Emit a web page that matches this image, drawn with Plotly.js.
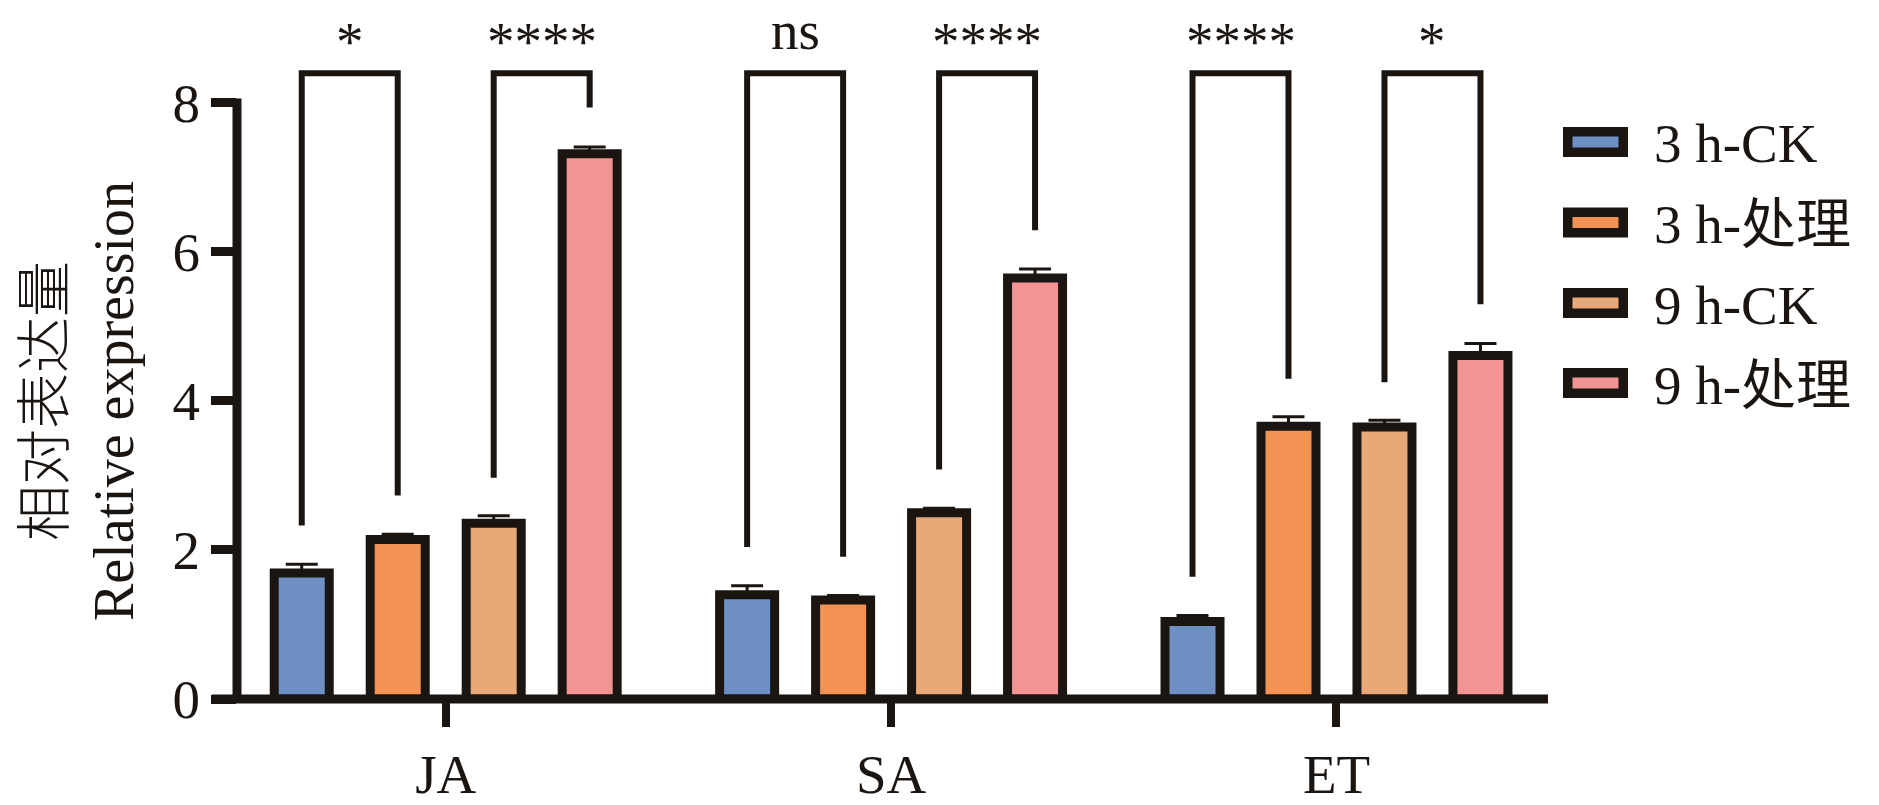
<!DOCTYPE html>
<html>
<head>
<meta charset="utf-8">
<script src="https://cdn.plot.ly/plotly-3.0.1.min.js"></script>
<style>
  html, body { margin: 0; padding: 0; background: #fff; }
  #chart { width: 1879px; height: 805px; }
</style>
</head>
<body>
<div id="chart"></div>
<script>
// groups on the x axis
var categories = ['JA', 'SA', 'ET'];
var seriesNames = ['3 h-CK', '3 h-处理', '9 h-CK', '9 h-处理'];

// mean relative expression
var ck3h = [1.69, 1.40, 1.04];
var trt3h = [2.14, 1.33, 3.66];
var ck9h = [2.36, 2.50, 3.65];
var trt9h = [7.32, 5.65, 4.61];

// error bars (the lower half is hidden by the bar in the figure)
var ck3hErr = [0.12, 0.12, 0.08];
var trt3hErr = [0.07, 0.06, 0.13];
var ck9hErr = [0.10, 0.06, 0.09];
var trt9hErr = [0.09, 0.12, 0.16];

// significance brackets: pairs (series index), labels, leg ends
var sigGroup = [0, 0, 1, 1, 2, 2];
var sigFrom = [0, 2, 0, 2, 0, 2];
var sigTo = [1, 3, 1, 3, 1, 3];
var sigText = ['*', '****', 'ns', '****', '****', '*'];
var legLeft = [2.33, 2.97, 2.04, 3.08, 1.64, 4.25];
var legRight = [2.73, 7.94, 1.91, 6.29, 4.30, 5.30];
var bracketTop = 8.40;
var sigLabelY = [8.82, 8.82, 8.97, 8.82, 8.82, 8.82];

var yTicks = [0, 2, 4, 6, 8];

var colors = ['#6E8FC3', '#F39353', '#E8A878', '#F29494'];
var ink = '#1B1512';
var fontFam = '"Liberation Serif", "Times New Roman", "Noto Sans CJK SC", serif';

var W = 1879, H = 805;
var mL = 237, mR = 331, mT = 5, mB = 106;
var pw = W - mL - mR, ph = H - mT - mB;

// bar layout in category units
var slot = 0.2155;
var barW = 0.1235;

var values = [ck3h, trt3h, ck9h, trt9h];
var errs = [ck3hErr, trt3hErr, ck9hErr, trt9hErr];
var xs = categories.map(function (c, i) { return i; });

var data = [];
values.forEach(function (v, k) {
  data.push({
    type: 'bar',
    name: seriesNames[k],
    x: xs,
    y: v,
    width: barW,
    offset: (k - 1.5) * slot - barW / 2,
    marker: { color: colors[k], line: { color: ink, width: 9 } },
    error_y: {
      type: 'data', symmetric: false, array: errs[k],
      arrayminus: errs[k].map(function () { return 0; }),
      visible: true, color: ink, thickness: 3, width: 16
    },
    showlegend: false,
    hoverinfo: 'skip'
  });
});

function barCenter(g, k) { return g + (k - 1.5) * slot; }

var annotations = [];
sigText.forEach(function (t, i) {
  var xa = barCenter(sigGroup[i], sigFrom[i]);
  var xb = barCenter(sigGroup[i], sigTo[i]);
  data.push({
    type: 'scatter',
    mode: 'lines',
    x: [xa, xa, xb, xb],
    y: [legLeft[i], bracketTop, bracketTop, legRight[i]],
    line: { color: ink, width: 6 },
    showlegend: false,
    hoverinfo: 'skip'
  });
  annotations.push({
    xref: 'x', yref: 'y', x: (xa + xb) / 2, y: sigLabelY[i],
    text: t, showarrow: false, xanchor: 'center', yanchor: 'middle',
    font: { family: fontFam, size: 55, color: ink }
  });
});

// pixel -> paper helpers for the hand-built legend and axis line
function px(x) { return (x - mL) / pw; }
function py(y) { return (H - mB - y) / ph; }

var shapes = [
  // y axis line, only up to the top tick
  { type: 'line', xref: 'paper', yref: 'y', x0: 0, x1: 0, y0: 0, y1: 8.06,
    line: { color: ink, width: 9 } },
  // x axis line through zero, running under the 0 tick
  { type: 'line', xref: 'paper', yref: 'paper', x0: px(212), x1: 1, y0: 0, y1: 0,
    line: { color: ink, width: 9 } }
];

var legendRows = [142, 222.5, 303, 383];
seriesNames.forEach(function (n, k) {
  var cy = legendRows[k];
  shapes.push({
    type: 'rect', xref: 'paper', yref: 'paper',
    x0: px(1567.75), x1: px(1623.25), y0: py(cy - 10.25), y1: py(cy + 10.25),
    fillcolor: colors[k], line: { color: ink, width: 9.5 }
  });
  annotations.push({
    xref: 'paper', yref: 'paper', x: px(1652), y: py(cy + 2),
    text: n, showarrow: false, xanchor: 'left', yanchor: 'middle',
    font: { family: fontFam, size: 55, color: ink }
  });
});

// y title: two rotated lines centred on the 0-8 span
annotations.push({
  xref: 'paper', yref: 'y', x: px(45), y: 4,
  text: '相对表达量', textangle: -90,
  showarrow: false, xanchor: 'center', yanchor: 'middle',
  font: { family: fontFam, size: 56, color: ink, weight: 300 }
});
annotations.push({
  xref: 'paper', yref: 'y', x: px(114), y: 4,
  text: 'Relative expression', textangle: -90,
  showarrow: false, xanchor: 'center', yanchor: 'middle',
  font: { family: fontFam, size: 56, color: ink }
});

var layout = {
  width: W, height: H,
  margin: { l: mL, r: mR, t: mT, b: mB, pad: 0 },
  paper_bgcolor: '#fff', plot_bgcolor: '#fff',
  showlegend: false,
  barmode: 'overlay',
  font: { family: fontFam, color: ink },
  xaxis: {
    range: [-0.4686, 2.4749],
    tickvals: xs, ticktext: categories,
    showline: false,
    ticks: 'outside', ticklen: 27, tickwidth: 8, tickcolor: ink,
    tickfont: { family: fontFam, size: 55, color: ink },
    showgrid: false, zeroline: false, fixedrange: true
  },
  yaxis: {
    range: [0, 9.315],
    tickvals: yTicks, ticktext: yTicks.map(String),
    showline: false,
    ticks: 'outside', ticklen: 25, tickwidth: 9, tickcolor: ink,
    tickfont: { family: fontFam, size: 55, color: ink },
    showgrid: false, zeroline: false, fixedrange: true
  },
  shapes: shapes,
  annotations: annotations
};

Plotly.newPlot('chart', data, layout, { displayModeBar: false, staticPlot: true });
</script>
</body>
</html>
